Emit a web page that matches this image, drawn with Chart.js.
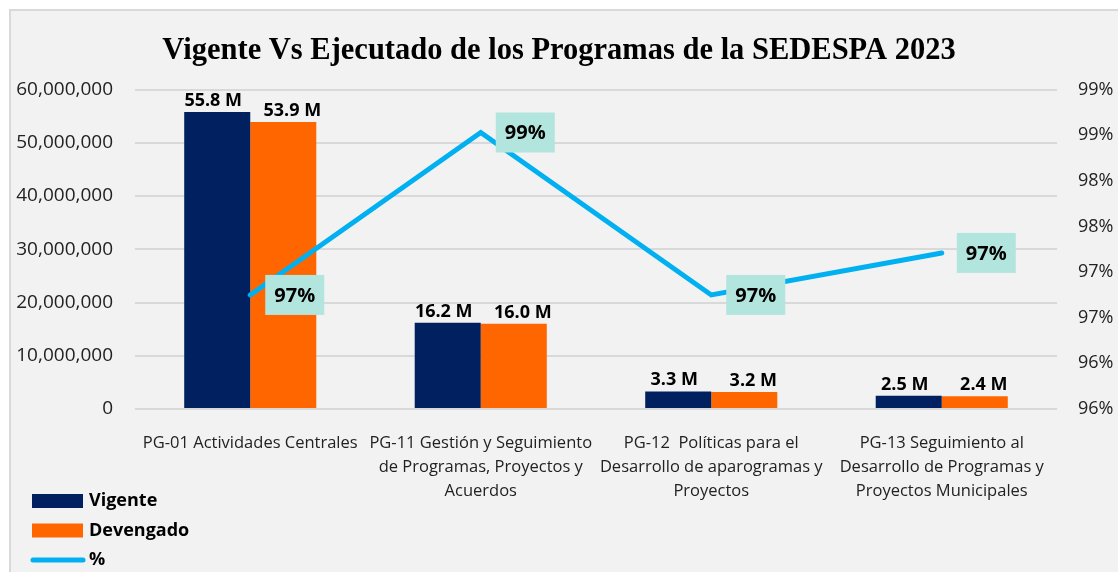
<!DOCTYPE html>
<html lang="es">
<head>
    <meta charset="UTF-8">
    <title>Vigente Vs Ejecutado SEDESPA 2023</title>
    <script src="https://cdn.jsdelivr.net/npm/chart.js"></script>
    <style>
        body { margin: 0; background: #fff; }
        #marco {
            position: absolute; left: 9px; top: 9px; width: 1112px; height: 580px;
            background: #f2f2f2; border: 2px solid #d9d9d9; box-sizing: border-box;
        }
        #grafico { position: absolute; left: 0; top: 0; }
    </style>
</head>
<body>
    <div id="marco"></div>
    <canvas id="grafico" width="1118" height="572"></canvas>

<script>
    // Datos del gráfico
    const categorias = [
        'PG-01 Actividades Centrales',
        ['PG-11 Gestión y Seguimiento', 'de Programas, Proyectos y', 'Acuerdos'],
        ['PG-12  Políticas para el', 'Desarrollo de aparogramas y', 'Proyectos'],
        ['PG-13 Seguimiento al', 'Desarrollo de Programas y', 'Proyectos Municipales']
    ];
    const vigente = [55800000, 16200000, 3300000, 2500000];
    const devengado = [53900000, 16000000, 3200000, 2400000];
    const porcentaje = [96.85, 98.63, 96.85, 97.31];
    const ticksPorcentaje = [95.6, 96.1, 96.6, 97.1, 97.6, 98.1, 98.6, 99.1];

    const fuente = '"Open Sans", sans-serif';

    // etiquetas de las barras y de la línea
    const etiquetas = {
        id: 'etiquetas',
        afterDatasetsDraw(chart) {
            const ctx = chart.ctx;
            ctx.save();
            chart.data.datasets.forEach((ds, i) => {
                const meta = chart.getDatasetMeta(i);
                meta.data.forEach((el, j) => {
                    if (ds.type === 'line') {
                        const w = 59, h = 40;
                        ctx.fillStyle = '#b3e5df';
                        ctx.fillRect(el.x + 15, el.y - h / 2, w, h);
                        ctx.fillStyle = '#000';
                        ctx.font = 'bold 20px ' + fuente;
                        ctx.textAlign = 'center';
                        ctx.textBaseline = 'middle';
                        ctx.fillText(Math.round(ds.data[j]) + '%', el.x + 15 + w / 2, el.y + 1);
                    } else {
                        // Vigente un poco a la izquierda, Devengado a la derecha
                        const dx = i === 0 ? -4 : 9;
                        ctx.fillStyle = '#000';
                        ctx.font = 'bold 18px ' + fuente;
                        ctx.textAlign = 'center';
                        ctx.textBaseline = 'alphabetic';
                        ctx.fillText((ds.data[j] / 1e6).toFixed(1) + ' M', el.x + dx, el.y - 6);
                    }
                });
            });
            ctx.restore();
        }
    };

    // leyenda vertical abajo a la izquierda
    const leyenda = {
        id: 'leyenda',
        afterDraw(chart) {
            const ctx = chart.ctx;
            ctx.save();
            ctx.font = 'bold 18px ' + fuente;
            ctx.textAlign = 'left';
            ctx.textBaseline = 'middle';
            chart.data.datasets.forEach((ds, i) => {
                const y = 501 + i * 29.5;
                if (ds.type === 'line') {
                    ctx.strokeStyle = ds.borderColor;
                    ctx.lineWidth = 5;
                    ctx.lineCap = 'round';
                    ctx.beginPath();
                    ctx.moveTo(33, y);
                    ctx.lineTo(83, y);
                    ctx.stroke();
                } else {
                    ctx.fillStyle = ds.backgroundColor;
                    ctx.fillRect(32, y - 7, 51, 14);
                }
                ctx.fillStyle = '#000';
                ctx.fillText(ds.label, 89, y);
            });
            ctx.restore();
        }
    };

    const grafico = new Chart(document.getElementById('grafico'), {
        type: 'bar',
        data: {
            labels: categorias,
            datasets: [
                {
                    label: 'Vigente',
                    data: vigente,
                    backgroundColor: '#002060',
                    categoryPercentage: 0.573,
                    barPercentage: 1,
                    yAxisID: 'y',
                    order: 1
                },
                {
                    label: 'Devengado',
                    data: devengado,
                    backgroundColor: '#ff6600',
                    categoryPercentage: 0.573,
                    barPercentage: 1,
                    yAxisID: 'y',
                    order: 1
                },
                {
                    type: 'line',
                    label: '%',
                    data: porcentaje,
                    borderColor: '#00b0f0',
                    backgroundColor: '#00b0f0',
                    borderWidth: 5,
                    borderCapStyle: 'round',
                    pointRadius: 0,
                    tension: 0,
                    yAxisID: 'y1',
                    order: 0
                }
            ]
        },
        plugins: [etiquetas, leyenda],
        options: {
            responsive: false,
            animation: false,
            layout: { padding: 0 },
            plugins: {
                legend: { display: false },
                tooltip: { enabled: false },
                title: {
                    display: true,
                    text: 'Vigente Vs Ejecutado de los Programas de la SEDESPA 2023',
                    color: '#000',
                    font: { family: '"Liberation Serif", serif', size: 30.5, weight: 'bold' },
                    padding: { top: 33, bottom: 20 }
                }
            },
            scales: {
                x: {
                    grid: { display: false },
                    border: { display: false },
                    ticks: {
                        color: '#222',
                        font: { family: fuente, size: 16.5, lineHeight: 1.45 },
                        padding: 14,
                        maxRotation: 0,
                        autoSkip: false
                    },
                    afterFit(scale) { scale.height = 163; }
                },
                y: {
                    position: 'left',
                    min: 0,
                    max: 60000000,
                    grid: { color: '#d9d9d9', lineWidth: 2, drawTicks: false },
                    border: { display: false },
                    ticks: {
                        stepSize: 10000000,
                        color: '#222',
                        padding: 22,
                        font: { family: fuente, size: 19 },
                        callback: (v) => v.toLocaleString('en-US')
                    },
                    afterFit(scale) { scale.width = 135; }
                },
                y1: {
                    position: 'right',
                    min: 95.6,
                    max: 99.1,
                    grid: { display: false, drawTicks: false },
                    border: { display: false },
                    ticks: {
                        color: '#222',
                        padding: 21,
                        font: { family: fuente, size: 18 },
                        callback: (v) => Math.round(v) + '%'
                    },
                    afterBuildTicks(scale) {
                        scale.ticks = ticksPorcentaje.map(v => ({ value: v }));
                    },
                    afterFit(scale) { scale.width = 61; }
                }
            }
        }
    });
</script>
</body>
</html>
